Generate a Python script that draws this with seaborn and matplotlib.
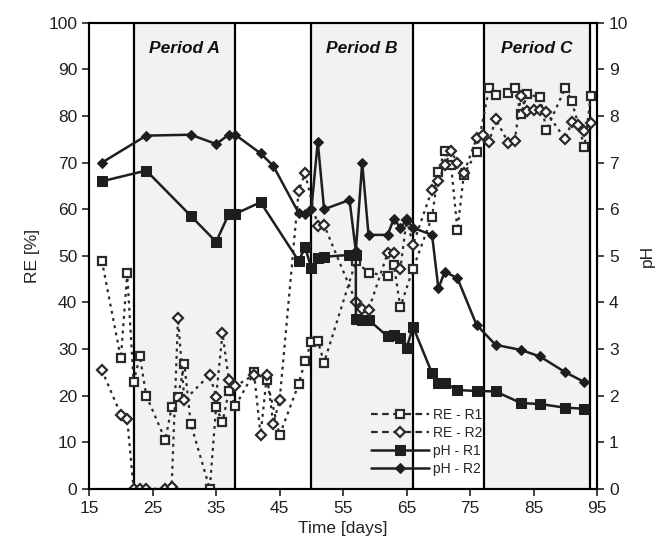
import numpy as np
import matplotlib
matplotlib.use("Agg")
import matplotlib.pyplot as plt
import seaborn as sns

sns.set_style("white")
plt.rcParams['font.family'] = ['Liberation Sans', 'DejaVu Sans']

# removal efficiency [%]
re_r1_day = [17, 20, 21, 22, 23, 24, 27, 28, 29, 30, 31, 34, 35, 36, 37, 38,
             41, 43, 45, 48, 49, 50, 51, 52, 57, 59, 62, 63, 64, 66,
             69, 70, 71, 72, 73, 74, 76, 78, 79, 81, 82, 83, 84, 86, 87,
             90, 91, 93, 94]
re_r1 = [49, 28, 46.3, 23, 28.4, 20, 10.5, 17.5, 19.8, 26.8, 14, 0, 17.6, 14.3, 21, 17.7,
         25, 23.3, 11.5, 22.5, 27.4, 31.5, 31.8, 27.1, 48.8, 46.4, 45.7, 48, 39, 47.2,
         58.4, 68, 72.6, 69.4, 55.5, 67.4, 72.3, 86, 84.6, 84.9, 86.1, 80.5, 84.7, 84, 77,
         86.1, 83.2, 73.4, 84.3]

re_r2_day = [17, 20, 21, 22, 23, 24, 27, 28, 29, 30, 34, 35, 36, 37, 38,
             41, 42, 43, 44, 45, 48, 49, 51, 52, 57, 58, 59, 62, 63, 64, 65, 66,
             69, 70, 71, 72, 73, 74, 76, 77, 78, 79, 81, 82, 83, 84, 85, 86, 87,
             90, 91, 92, 93, 94]
re_r2 = [25.5, 15.9, 15, 0, 0, 0, 0, 0.3, 36.6, 19, 24.5, 19.8, 33.4, 23.4, 22,
         24.5, 11.5, 24.5, 14, 19, 64, 67.7, 56.4, 56.6, 40.2, 38.6, 38.4, 50.6, 50.6, 47.1, 57.8, 52.4,
         64.2, 66, 69.5, 72.4, 70, 67.7, 75.2, 76, 74.4, 79.4, 74.3, 74.6, 84.2, 81, 81.4, 81.3, 80.8,
         75, 78.8, 78.1, 76.8, 78.5]

# pH
ph_r1_day = [17, 24, 31, 35, 37, 38, 42, 48, 49, 50, 51, 52, 56, 57, 57, 58, 59,
             62, 63, 64, 65, 66, 69, 70, 71, 73, 76, 79, 83, 86, 90, 93]
ph_r1 = [6.6, 6.83, 5.86, 5.3, 5.9, 5.9, 6.15, 4.89, 5.18, 4.74, 4.96, 4.98, 5.02, 5.02, 3.64, 3.63, 3.63,
         3.27, 3.3, 3.23, 3.02, 3.48, 2.48, 2.27, 2.27, 2.12, 2.1, 2.09, 1.84, 1.82, 1.74, 1.72]

ph_r2_day = [17, 24, 31, 35, 37, 38, 42, 44, 48, 49, 50, 51, 52, 56, 57, 58, 59,
             62, 63, 64, 65, 66, 69, 70, 71, 73, 76, 79, 83, 86, 90, 93]
ph_r2 = [7.0, 7.58, 7.6, 7.4, 7.6, 7.6, 7.2, 6.93, 5.92, 5.9, 6.0, 7.45, 6.0, 6.2, 5.1, 7.0, 5.45,
         5.45, 5.8, 5.6, 5.77, 5.6, 5.45, 4.3, 4.66, 4.52, 3.52, 3.09, 2.98, 2.84, 2.5, 2.29]

period_names = ["Period A", "Period B", "Period C"]
period_start = [22, 50, 77.2]
period_end = [38, 66, 93.8]

fig = plt.figure(figsize=(6.65, 5.58), dpi=100)
ax = fig.add_axes([0.134, 0.124, 0.764, 0.835])
ax2 = ax.twinx()

for name, a, b in zip(period_names, period_start, period_end):
    ax.axvspan(a, b, color="#f2f2f2", zorder=0, lw=0)
    ax.axvline(a, color="black", lw=1.6, zorder=1)
    ax.axvline(b, color="black", lw=1.6, zorder=1)
    ax.text((a + b) / 2, 94.5, name, ha="center", va="center",
            fontsize=12.5, fontweight="bold", fontstyle="italic", color="#111")

dot = (0, (1.3, 2.0))
open_kw = dict(markerfacecolor="white", markeredgecolor="#2a2a2a",
               markeredgewidth=1.6, color="#2a2a2a", linewidth=1.6)
sns.lineplot(x=re_r1_day, y=re_r1, ax=ax, sort=False, estimator=None, marker="s",
             markersize=5.8, linestyle=dot, label="RE - R1", legend=False, **open_kw)
sns.lineplot(x=re_r2_day, y=re_r2, ax=ax, sort=False, estimator=None, marker="D",
             markersize=5, linestyle=dot, label="RE - R2", legend=False, **open_kw)

solid_kw = dict(color="#1e1e1e", markerfacecolor="#1e1e1e", markeredgecolor="#1e1e1e",
                linewidth=1.8)
sns.lineplot(x=ph_r1_day, y=ph_r1, ax=ax2, sort=False, estimator=None, marker="s",
             markersize=6.5, label="pH - R1", legend=False, **solid_kw)
sns.lineplot(x=ph_r2_day, y=ph_r2, ax=ax2, sort=False, estimator=None, marker="D",
             markersize=5.5, label="pH - R2", legend=False, **solid_kw)

ax.set_xlim(15, 95)
ax.set_ylim(0, 100)
ax2.set_ylim(0, 10)
ax.set_xticks(np.arange(15, 96, 10))
ax.set_yticks(np.arange(0, 101, 10))
ax2.set_yticks(np.arange(0, 11, 1))

for a in (ax, ax2):
    for s in a.spines.values():
        s.set_color("black")
        s.set_linewidth(1.5)
    a.tick_params(direction="out", length=5, width=1.2, labelsize=12.5, colors="#222")
ax.tick_params(axis="x", bottom=True)
ax.tick_params(axis="y", left=True)
ax2.tick_params(axis="y", right=True)

ax.set_xlabel("Time [days]", fontsize=12.5, color="#222", labelpad=4)
ax.set_ylabel("RE [%]", fontsize=12.5, color="#222", labelpad=6)
ax2.set_ylabel("pH", fontsize=12.5, color="#222", labelpad=8)

h1, l1 = ax.get_legend_handles_labels()
h2, l2 = ax2.get_legend_handles_labels()
leg = ax2.legend(h1 + h2, l1 + l2, loc="lower left", bbox_to_anchor=(0.53, 0.0),
                 frameon=False, fontsize=10, handlelength=4.2, handletextpad=0.3,
                 labelspacing=0.3)
for line in leg.get_lines()[:2]:
    line.set_linestyle((0, (3, 2)))

fig.savefig("out.png", dpi=100)
